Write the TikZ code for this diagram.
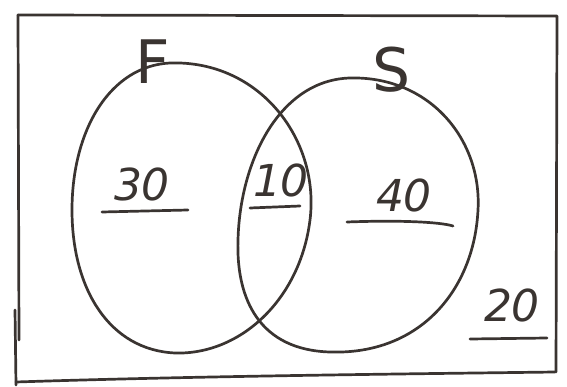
\documentclass[tikz,border=0pt]{standalone}
\usepackage{fontspec}
\setmainfont{DejaVu Sans}
\definecolor{ink}{HTML}{3A3431}
\tikzset{
  pen/.style={draw=ink, line width=2.7pt, line cap=round, line join=round},
  num/.style={text=ink, font=\fontsize{44}{44}\selectfont\itshape, inner sep=0pt},
  setlbl/.style={text=ink, font=\fontsize{60}{60}\selectfont, inner sep=0pt}
}
\begin{document}
\begin{tikzpicture}[x=1pt,y=-1pt]
\useasboundingbox (0,0) rectangle (567,387);
% universal rectangle (hand drawn)
\draw[pen] (18,15) -- (557,16) -- (556,372);
\draw[pen] (18,15) -- (19,340);
\draw[pen] (15,310) -- (16,385);
\draw[pen] (16,382) .. controls (200,376) and (400,374) .. (555,372);
% sets
\draw[pen] (170,63) .. controls (260,60) and (320,140) .. (310,220)
  .. controls (300,300) and (240,355) .. (175,353)
  .. controls (110,350) and (72,290) .. (72,210)
  .. controls (72,130) and (110,66) .. (170,63);
\draw[pen] (350,78) .. controls (430,76) and (482,140) .. (478,210)
  .. controls (474,290) and (420,355) .. (330,352)
  .. controls (260,350) and (236,300) .. (238,240)
  .. controls (240,160) and (280,80) .. (350,78);
% set labels
\node[setlbl] (F) at (153,62) {F};
\node[setlbl] (S) at (392,70) {S};
% region counts
\node[num] (n30) at (142,184) {30};
\node[num] (n10) at (281,180) {10};
\node[num] (n40) at (404,195) {40};
\node[num] (n20) at (512,305) {20};
% underlines
\draw[pen] (102,212) -- (188,210);
\draw[pen] (250,208) -- (300,206);
\draw[pen] (347,222) .. controls (400,220) and (440,222) .. (453,226);
\draw[pen] (470,339) -- (547,338);
\end{tikzpicture}
\end{document}
